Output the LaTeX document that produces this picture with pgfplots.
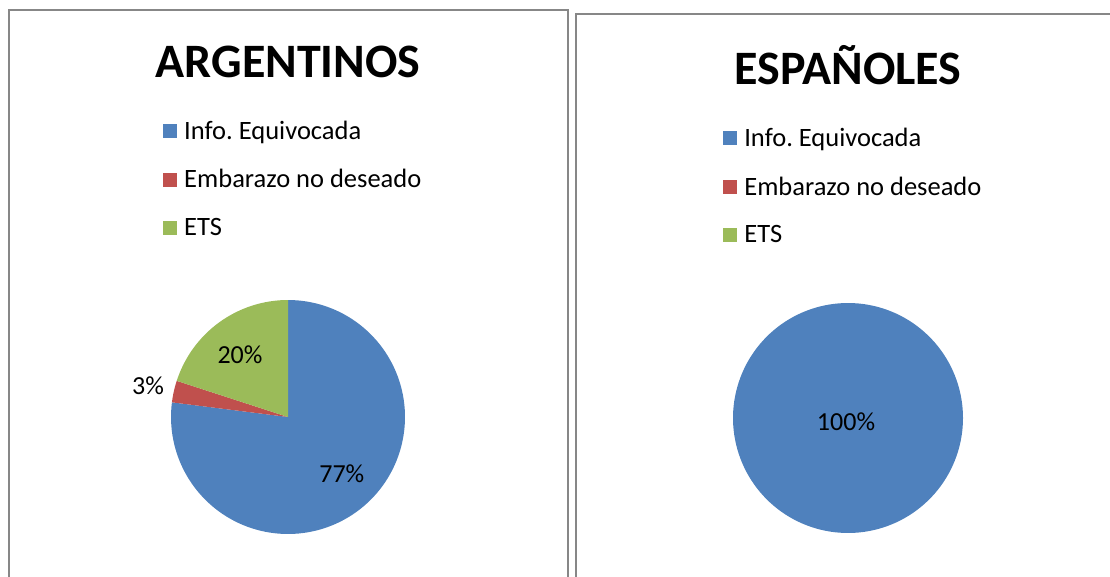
\documentclass[border=0pt]{standalone}
\usepackage{fontspec}
\setmainfont{Carlito}
\usepackage{pgfplots}
\pgfplotsset{compat=1.18}
\definecolor{cblue}{HTML}{4F81BD}
\definecolor{cred}{HTML}{C0504D}
\definecolor{cgreen}{HTML}{9BBB59}
\definecolor{cborder}{HTML}{878787}
% data (percent)
\def\ArInfo{77}\def\ArEmb{3}\def\ArETS{20}
\def\EsInfo{100}
\pgfplotsset{
  piestyle/.style={
    width=#1, height=#1, scale only axis,
    xmin=-1, xmax=1, ymin=-1, ymax=1,
    hide axis, clip=false,
    legend cell align=left,
    legend image code/.code={\fill[##1] (0pt,-7pt) rectangle (14pt,7pt);},
    legend style={draw=none, fill=none, inner sep=0pt, row sep=23pt,
      font=\fontsize{26.5}{30}\selectfont\frenchspacing, anchor=north west,
      nodes={inner sep=3pt},
      /tikz/every odd column/.append style={column sep=4pt}},
  },
}
\tikzset{lbl/.style={font=\fontsize{26}{30}\selectfont}}
\begin{document}
\frenchspacing
\begin{tikzpicture}
\path[use as bounding box] (0pt,0pt) rectangle (1110pt,576pt);
\clip (0pt,0pt) rectangle (1110pt,576pt);
\draw[cborder, line width=2pt] (8.5pt,566pt) rectangle (567.5pt,-20pt);
\draw[cborder, line width=2pt] (575.5pt,562pt) rectangle (1130pt,-20pt);
\node[font=\fontsize{48}{54}\selectfont\bfseries] at (288pt,514pt) {ARGENTINOS};
\node[font=\fontsize{48}{54}\selectfont\bfseries] at (848pt,511pt) {ESPAÑOLES};

\begin{axis}[piestyle=234pt, at={(288pt,159pt)}, anchor=center,
  legend style={at={(-0.034,1.78)}}]
\addplot[fill=cblue, draw=none, domain={90-3.6*\ArInfo}:90, samples=120]
  ({cos(x)},{sin(x)}) -- (0,0) -- cycle;
\addplot[fill=cred, draw=none, domain={90-3.6*(\ArInfo+\ArEmb)}:{90-3.6*\ArInfo}, samples=10]
  ({cos(x)},{sin(x)}) -- (0,0) -- cycle;
\addplot[fill=cgreen, draw=none, domain={90-3.6*(\ArInfo+\ArEmb+\ArETS)}:{90-3.6*(\ArInfo+\ArEmb)}, samples=40]
  ({cos(x)},{sin(x)}) -- (0,0) -- cycle;
\legend{Info. Equivocada, Embarazo no deseado, ETS}
\node[lbl] at (axis cs:-0.41,0.53) {20\%};
\node[lbl] at (axis cs:-1.197,0.265) {3\%};
\node[lbl] at (axis cs:0.46,-0.487) {77\%};
\end{axis}

\begin{axis}[piestyle=230pt, at={(848pt,158pt)}, anchor=center,
  legend style={at={(-0.043,1.776)}}]
\addplot[fill=cblue, draw=none, domain=0:{3.6*\EsInfo}, samples=150]
  ({cos(x)},{sin(x)}) -- cycle;
\addlegendimage{fill=cred, draw=none}
\addlegendimage{fill=cgreen, draw=none}
\legend{Info. Equivocada, Embarazo no deseado, ETS}
\node[lbl] at (axis cs:-0.017,-0.035) {100\%};
\end{axis}
\end{tikzpicture}
\end{document}
